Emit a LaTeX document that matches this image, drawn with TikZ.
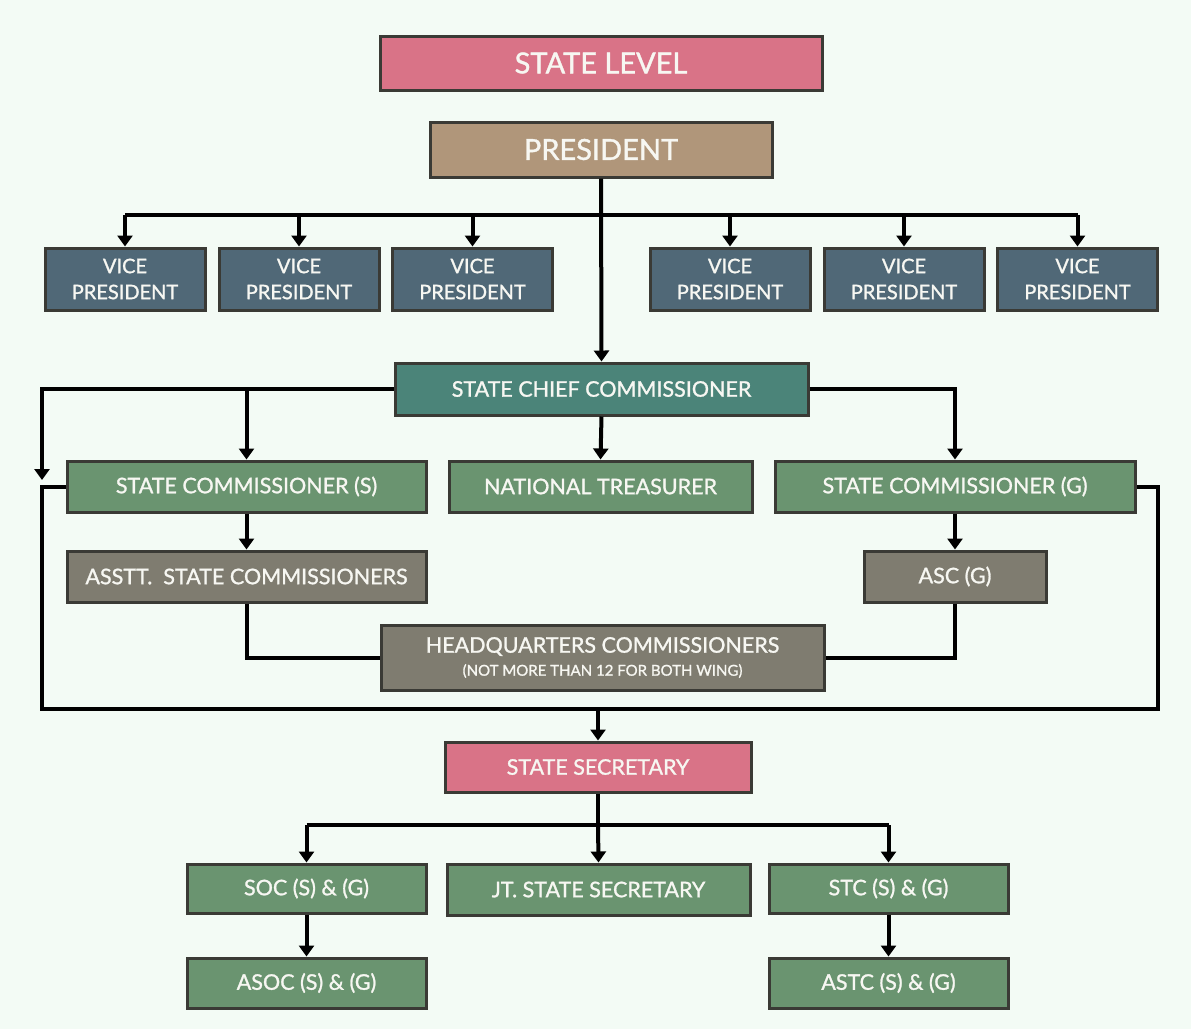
\documentclass[tikz,border=0pt]{standalone}
\usepackage{fontspec}
\setmainfont{Lato}[RawFeature={embolden=1.2}]
\usetikzlibrary{arrows.meta}
\definecolor{bg}{HTML}{F3FBF5}
\definecolor{pinkc}{HTML}{D97387}
\definecolor{tanc}{HTML}{B0967A}
\definecolor{slatec}{HTML}{506877}
\definecolor{tealc}{HTML}{4B8479}
\definecolor{greenc}{HTML}{6A9470}
\definecolor{grayc}{HTML}{7F7C70}
\definecolor{edgec}{HTML}{3A3A35}
\definecolor{txtc}{HTML}{F7F7F2}
\tikzset{
  box/.style={draw=edgec, line width=3pt, text=txtc, inner sep=0pt, align=center},
  conn/.style={line width=4pt, black},
  arr/.style={conn, -{Triangle[width=15pt,length=11pt]}},
}
\begin{document}
\begin{tikzpicture}[x=1pt,y=-1pt]
\fill[bg] (0,0) rectangle (1191,1029);
\useasboundingbox (0,0) rectangle (1191,1029);

\node[box, fill=pinkc, minimum width=442pt, minimum height=54pt, font=\fontsize{29}{32}\selectfont] (statelevel) at (601,63) {STATE LEVEL};
\node[box, fill=tanc, minimum width=342pt, minimum height=55pt, font=\fontsize{29}{32}\selectfont] (president) at (601,149.5) {PRESIDENT};

\tikzset{vpbox/.style={box, fill=slatec, minimum width=160pt, minimum height=62pt, font=\fontsize{20}{26}\selectfont}}
\node[vpbox] (vp1) at (125,279) {VICE\\PRESIDENT};
\node[vpbox] (vp2) at (299,279) {VICE\\PRESIDENT};
\node[vpbox] (vp3) at (472.5,279) {VICE\\PRESIDENT};
\node[vpbox] (vp4) at (730,279) {VICE\\PRESIDENT};
\node[vpbox] (vp5) at (904,279) {VICE\\PRESIDENT};
\node[vpbox] (vp6) at (1077.5,279) {VICE\\PRESIDENT};

\tikzset{mid/.style={box, font=\fontsize{21.5}{24}\selectfont, minimum height=51pt}}
\node[mid, fill=tealc, minimum width=413pt, minimum height=52pt] (scc) at (601.5,389) {STATE CHIEF COMMISSIONER};
\node[mid, fill=greenc, minimum width=359pt] (scs) at (246.5,486.5) {STATE COMMISSIONER (S)};
\node[mid, fill=greenc, minimum width=303pt] (nt) at (600.5,486.5) {NATIONAL TREASURER};
\node[mid, fill=greenc, minimum width=360pt] (scg) at (955,486.5) {STATE COMMISSIONER (G)};
\node[mid, fill=grayc, minimum width=359pt] (asst) at (246.5,576.5) {ASSTT.\ \ STATE COMMISSIONERS};
\node[mid, fill=grayc, minimum width=182pt] (ascg) at (955,576.5) {ASC (G)};
\node[mid, fill=grayc, minimum width=443pt, minimum height=65pt] (hq) at (602.5,657.5) {HEADQUARTERS COMMISSIONERS\\[-1pt]{\fontsize{15}{16}\selectfont(NOT MORE THAN 12 FOR BOTH WING)}};
\node[mid, fill=pinkc, minimum width=306pt, minimum height=50pt] (ss) at (598,767) {STATE SECRETARY};
\node[mid, fill=greenc, minimum width=239pt, minimum height=49pt] (soc) at (306.5,888.5) {SOC (S) \& (G)};
\node[mid, fill=greenc, minimum width=303pt] (jt) at (598.5,889.5) {JT. STATE SECRETARY};
\node[mid, fill=greenc, minimum width=239pt, minimum height=49pt] (stc) at (888.5,888.5) {STC (S) \& (G)};
\node[mid, fill=greenc, minimum width=239pt, minimum height=50pt] (asoc) at (306.5,983) {ASOC (S) \& (G)};
\node[mid, fill=greenc, minimum width=239pt, minimum height=50pt] (astc) at (888.5,983) {ASTC (S) \& (G)};

% coordinates for free line corners
\coordinate (pb) at (601,215);
\coordinate (lx) at (42,480);
\coordinate (lb) at (42,709);
\coordinate (rb) at (1158,709);
\coordinate (sb) at (598,825);

% president to VPs and SCC
\draw[conn] (vp1.north |- pb) -- (vp6.north |- pb);
\foreach \v in {vp1,vp2,vp3,vp4,vp5,vp6} \draw[arr] (\v.north |- pb) -- (\v.north);
\draw[arr] (president.south) -- (scc.north);

% SCC branches
\draw[arr] (scc.west) -| (lx);
\draw[arr] (scs.north |- scc.west) -- (scs.north);
\draw[arr] (scc.east) -| (scg.north);
\draw[arr] (scc.south) -- (nt.north);

% commissioners
\draw[arr] (scs.south) -- (asst.north);
\draw[arr] (scg.south) -- (ascg.north);
\draw[conn] (asst.south) |- (hq.west);
\draw[conn] (ascg.south) |- (hq.east);

% big loop
\draw[conn] (scs.west) -| (lb) -- (rb) |- (scg.east);
\draw[arr] (ss.north |- lb) -- (ss.north);

% secretary
\draw[conn] (ss.south) -- (sb);
\draw[conn] (soc.north |- sb) -- (stc.north |- sb);
\draw[arr] (soc.north |- sb) -- (soc.north);
\draw[arr] (sb) -- (jt.north);
\draw[arr] (stc.north |- sb) -- (stc.north);
\draw[arr] (soc.south) -- (asoc.north);
\draw[arr] (stc.south) -- (astc.north);
\end{tikzpicture}
\end{document}
